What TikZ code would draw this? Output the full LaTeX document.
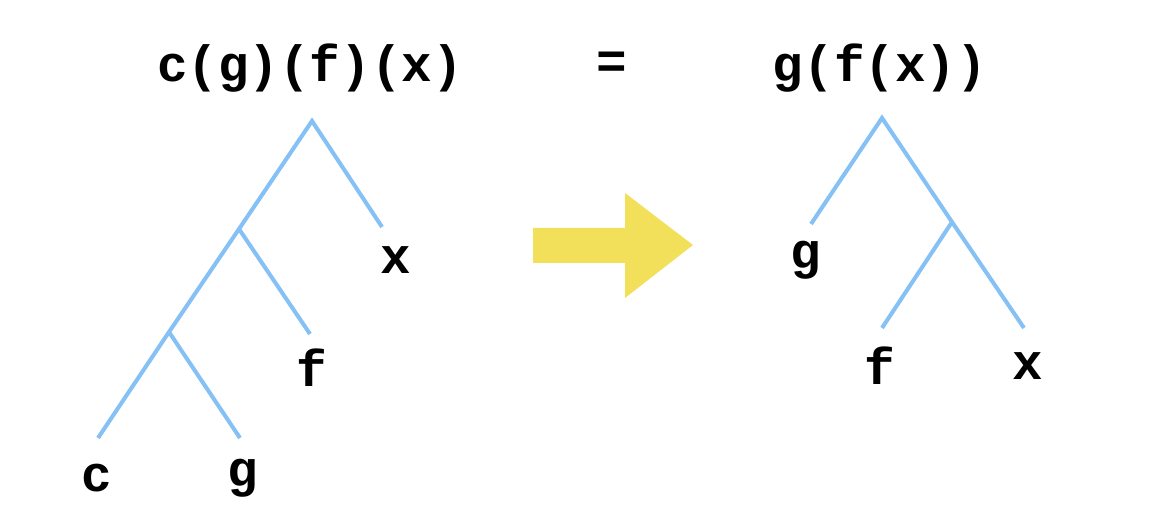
\documentclass[tikz,border=0pt]{standalone}
\usepackage{fontspec}
\setmonofont{Liberation Mono}
\definecolor{branch}{HTML}{85C1F5}
\definecolor{arrowyellow}{HTML}{F3E05A}
\tikzset{
  lbl/.style={font=\ttfamily\bfseries\fontsize{29}{30}\selectfont, inner sep=0pt},
  edge/.style={draw=branch, line width=2.3pt}
}
\begin{document}
\begin{tikzpicture}[x=0.02cm,y=-0.02cm]
   \useasboundingbox (0,0) rectangle (1166,526);
   % left tree
   \node[lbl] at (310,68) {c(g)(f)(x)};
   \coordinate (l0) at (312,121);
   \coordinate (l1) at (239,229);
   \coordinate (l2) at (169,332);
   \coordinate (lx) at (382,227);
   \coordinate (lf) at (310,334);
   \coordinate (lc) at (98,438);
   \coordinate (lg) at (240,438);
   \draw[edge] (lx) -- (l0) -- (l1) -- (l2) -- (lc);
   \draw[edge] (l1) -- (lf);
   \draw[edge] (l2) -- (lg);
   \node[lbl] (tx) at (396,260) {x};
   \node[lbl] (tf) at (312,368) {f};
   \node[lbl] (tc) at (97,478) {c};
   \node[lbl] (tg) at (243,478) {g};

   \node[lbl] (eq) at (612,65) {=};

   % arrow
   \fill[arrowyellow] (533,228) -- (625,228) -- (625,193) -- (693,245)
        -- (625,298) -- (625,263) -- (533,263) -- cycle;

   % right tree
   \node[lbl] at (880,68) {g(f(x))};
   \coordinate (r0) at (882,118);
   \coordinate (r1) at (952,222);
   \coordinate (rg) at (811,224);
   \coordinate (rf) at (882,328);
   \coordinate (rx) at (1024,328);
   \draw[edge] (rg) -- (r0) -- (r1) -- (rx);
   \draw[edge] (r1) -- (rf);
   \node[lbl] (sg) at (806,260) {g};
   \node[lbl] (sf) at (880,366) {f};
   \node[lbl] (sx) at (1028,366) {x};
\end{tikzpicture}
\end{document}
